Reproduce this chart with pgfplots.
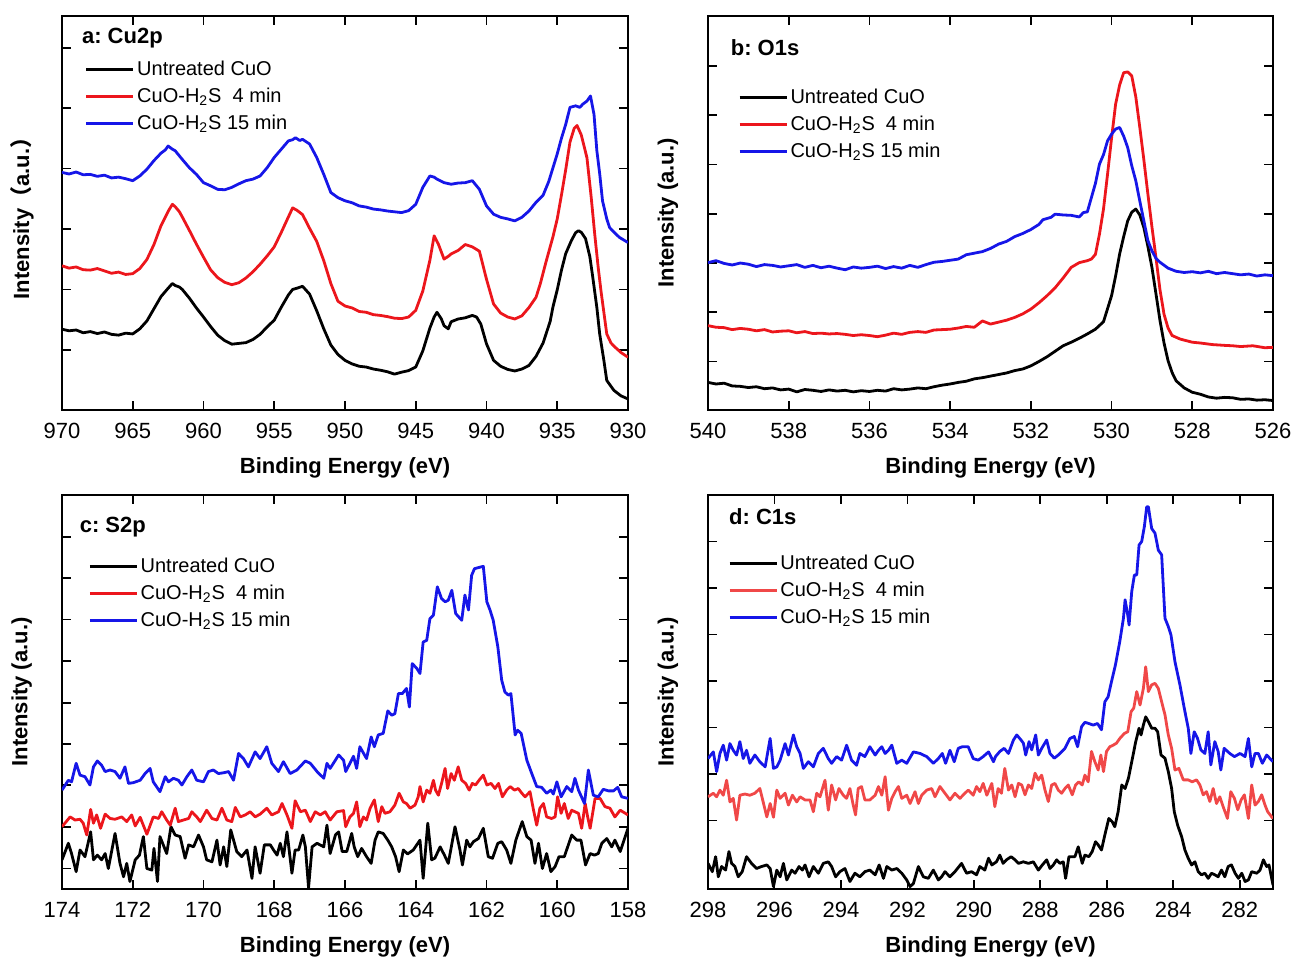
\documentclass[border=0pt]{standalone}
\usepackage{fontspec}
\setmainfont{Liberation Sans}
\newfontfamily\cjk{Noto Sans CJK SC}
\usepackage{pgfplots}
\pgfplotsset{compat=1.18}

\definecolor{cured}{RGB}{236,22,28}
\definecolor{cublue}{RGB}{22,22,232}
\definecolor{culight}{RGB}{240,72,72}

\pgfplotsset{
  xps/.style={
    width=283pt, height=197pt, scale only axis,
    anchor=south west,
    x dir=reverse, ymin=0, ymax=100,
    axis line style={line width=0.9pt},
    tick style={line width=0.9pt, black},
    major tick length=4.5pt, tick align=inside,
    xtick pos=both, ytick pos=both, yticklabel=\empty,
    tick label style={font=\fontsize{11}{13}\selectfont},
    xticklabel style={yshift=-3pt},
    /pgf/number format/assume math mode=true,
    xlabel={Binding Energy (eV)},
    ylabel={Intensity (a.u.)},
    label style={font=\bfseries\fontsize{11}{13}\selectfont},
    xlabel style={at={(axis description cs:0.5,-0.148)}, anchor=center},
    ylabel style={at={(axis description cs:-0.071,0.5)}, anchor=center},
    legend style={draw=none, fill=none, anchor=north west,
      font=\fontsize{10}{12}\selectfont, inner sep=0pt,
      nodes={inner xsep=1.2pt, inner ysep=2.4pt}, row sep=0pt},
    legend cell align=left,
    legend image code/.code={\draw[#1] (0pt,0pt) -- (23.5pt,0pt);},
    every axis plot/.append style={line width=1.4pt, mark=none, line join=round},
  },
}
\tikzset{lab/.style={anchor=west, font=\bfseries\fontsize{11}{13}\selectfont}}

\begin{document}
\frenchspacing
\begin{tikzpicture}
\useasboundingbox (0pt,0pt) rectangle (646pt,479pt);

% ---------- a: Cu2p
\begin{axis}[xps, at={(31pt,274pt)},
  xmin=930, xmax=970, xtick={930,935,...,970},
  ytick={15.3,30.6,45.9,61.3,76.6,91.9},
  ylabel={Intensity{\cjk （}a.u.{\cjk ）}},
  legend style={at={(axis description cs:0.040,0.900)}}]
\addplot[black] coordinates {(970,20.5)(969.5,20.1)(969,20.3)(968.5,19.6)(968,19.9)(967.5,19.4)(967,19.8)(966.5,19.2)(966,19.0)(965.5,19.5)(965,19.3)(964.5,20.6)(964,22.6)(963.5,25.7)(963,28.8)(962.5,30.9)(962.2,32.1)(962,31.6)(961.7,31.2)(961.5,30.6)(961,28.4)(960.5,25.9)(960,23.6)(959.5,21.2)(959,19.0)(958.5,17.6)(958,16.7)(957.5,16.9)(957,17.1)(956.5,17.9)(956,19.2)(955.5,21.1)(955,22.8)(954.5,26.1)(954,29.2)(953.7,30.6)(953.4,30.9)(953,31.4)(952.5,29.4)(952,25.2)(951.5,20.6)(951,16.5)(950.5,14.1)(950,12.6)(949.5,11.7)(949,11.1)(948.5,10.9)(948,10.4)(947.5,10.1)(947,9.7)(946.5,9.1)(946,9.6)(945.5,10.0)(945,10.9)(944.5,15.0)(944,20.8)(943.7,23.6)(943.5,24.8)(943.2,23.2)(943,21.4)(942.7,20.6)(942.5,22.4)(942,23.1)(941.5,23.4)(941,24.0)(940.7,23.6)(940.4,21.8)(940,16.8)(939.5,12.6)(939,11.1)(938.5,10.3)(938,9.9)(937.5,10.4)(937,11.3)(936.5,13.6)(936,17.0)(935.5,22.5)(935.3,26.2)(935,30.5)(934.7,35.5)(934.4,39.7)(934,43.0)(933.7,45.0)(933.5,45.5)(933.3,45.1)(933,43.5)(932.7,39.0)(932.5,34.0)(932.2,26.0)(932,19.3)(931.7,12.5)(931.5,7.5)(931.2,6.0)(931,5.0)(930.5,3.6)(930,2.8)};
\addplot[cured] coordinates {(970,36.6)(969.5,36.0)(969,36.3)(968.5,35.6)(968,35.5)(967.5,35.9)(967,35.3)(966.5,34.7)(966,35.0)(965.5,34.4)(965,34.6)(964.5,35.9)(964,38.2)(963.5,42.0)(963,46.8)(962.5,50.4)(962.2,52.2)(962,51.6)(961.7,50.3)(961.5,49.0)(961,45.6)(960.5,42.1)(960,38.8)(959.5,35.6)(959,33.6)(958.5,32.4)(958,31.8)(957.5,32.3)(957,33.5)(956.5,35.1)(956,37.0)(955.5,39.1)(955,41.4)(954.5,45.1)(954,49.0)(953.7,51.3)(953.4,50.7)(953,49.6)(952.5,46.1)(952,42.8)(951.5,37.9)(951,32.1)(950.5,27.6)(950,26.4)(949.5,25.9)(949,25.0)(948.5,24.8)(948,24.2)(947.5,24.0)(947,23.7)(946.5,23.3)(946,23.2)(945.5,23.6)(945,25.3)(944.5,30.2)(944,38.0)(943.7,44.2)(943.4,42.1)(943,38.3)(942.7,39.0)(942.5,39.6)(942,40.5)(941.5,42.0)(941,41.4)(940.5,40.3)(940,33.2)(939.5,26.9)(939,24.6)(938.5,23.6)(938,23.1)(937.5,23.9)(937,26.0)(936.5,28.6)(936.2,32.0)(935.8,37.5)(935.3,44.0)(935,48.5)(934.7,54.6)(934.4,61.0)(934.1,68.0)(933.8,71.5)(933.6,72.2)(933.3,69.8)(932.9,64.0)(932.6,54.0)(932.35,44.6)(932.1,36.0)(931.9,30.0)(931.5,19.3)(931.2,17.0)(930.9,15.9)(930.5,14.6)(930,13.4)};
\addplot[cublue] coordinates {(970,60.3)(969.5,59.9)(969,60.4)(968.5,59.7)(968,59.8)(967.5,59.3)(967,59.6)(966.5,58.9)(966,59.1)(965.5,58.7)(965,58.2)(964.5,59.4)(964,61.1)(963.5,63.3)(963,65.2)(962.7,66.0)(962.5,67.0)(962.2,66.2)(962,65.8)(961.5,63.6)(961,61.5)(960.5,59.8)(960,57.7)(959.5,56.9)(959,56.0)(958.5,55.9)(958,56.5)(957.5,57.4)(957,58.2)(956.5,58.6)(956,59.4)(955.5,61.5)(955,64.1)(954.5,66.2)(954,68.3)(953.7,68.6)(953.5,69.1)(953.2,68.4)(953,68.7)(952.5,67.5)(952,64.1)(951.5,59.8)(951,55.2)(950.5,53.9)(950,53.1)(949.5,52.6)(949,51.8)(948.5,51.5)(948,51.0)(947.5,50.8)(947,50.5)(946.5,50.3)(946,50.1)(945.5,50.6)(945,52.2)(944.5,56.5)(944,59.4)(943.7,59.1)(943.5,58.6)(943,57.7)(942.5,57.3)(942,57.6)(941.5,57.7)(941,58.2)(940.5,56.0)(940,51.8)(939.5,49.7)(939,48.9)(938.5,48.5)(938,48.0)(937.5,48.9)(937,50.5)(936.5,52.7)(936,54.5)(935.6,58.0)(935.3,61.5)(935,65.0)(934.7,69.0)(934.4,72.5)(934.1,76.8)(933.7,77.2)(933.4,76.8)(933.2,77.6)(932.9,78.4)(932.65,79.7)(932.4,75.0)(932.2,65.8)(932,60.0)(931.8,53.1)(931.5,48.5)(931.3,46.3)(930.9,44.8)(930.6,43.8)(930,42.5)};
\legend{Untreated CuO, CuO-H\textsubscript{2}S\ \ 4 min, CuO-H\textsubscript{2}S 15 min}
\node[lab] at (axis description cs:0.023,0.944) {a: Cu2p};
\end{axis}

% ---------- b: O1s
\begin{axis}[xps, at={(354pt,274pt)}, width=282.5pt,
  xmin=526, xmax=540, xtick={526,528,...,540},
  ytick={12.3,24.8,37.3,49.8,62.3,74.8,87.3},
  legend style={at={(axis description cs:0.053,0.829)}}]
\addplot[black] coordinates {(540,7.0)(539.8,6.6)(539.6,6.8)(539.4,6.1)(539.2,6.0)(539,5.7)(538.8,5.9)(538.6,5.4)(538.4,5.6)(538.2,5.1)(538,5.3)(537.8,4.6)(537.6,5.2)(537.4,5.0)(537.2,4.7)(537,5.1)(536.8,4.8)(536.6,5.0)(536.4,4.6)(536.2,4.9)(536,4.7)(535.8,5.0)(535.6,4.8)(535.4,5.4)(535.2,5.1)(535,5.3)(534.8,5.6)(534.6,5.4)(534.4,5.9)(534.2,6.3)(534,6.6)(533.8,7.0)(533.6,7.3)(533.4,7.9)(533.2,8.2)(533,8.6)(532.8,9.0)(532.6,9.4)(532.4,10.0)(532.2,10.4)(532,11.2)(531.8,12.3)(531.6,13.5)(531.4,14.9)(531.2,16.3)(531,17.2)(530.8,18.2)(530.6,19.3)(530.4,20.5)(530.2,22.4)(530,29.0)(529.9,34.0)(529.8,39.6)(529.7,44.0)(529.6,48.0)(529.5,50.2)(529.4,51.0)(529.3,49.5)(529.2,46.3)(529.1,41.5)(529,36.2)(528.9,29.5)(528.8,22.7)(528.7,17.0)(528.6,12.5)(528.5,9.5)(528.4,7.4)(528.2,5.6)(528,4.5)(527.8,4.0)(527.6,3.3)(527.4,3.0)(527.2,3.2)(527,3.1)(526.8,2.7)(526.6,2.8)(526.4,2.5)(526.2,2.6)(526,2.4)};
\addplot[cured] coordinates {(540,21.4)(539.8,21.0)(539.6,20.9)(539.4,20.4)(539.2,20.7)(539,20.5)(538.8,20.1)(538.6,20.4)(538.4,19.8)(538.2,20.0)(538,20.1)(537.8,19.6)(537.6,19.9)(537.4,19.4)(537.2,19.5)(537,19.3)(536.8,19.4)(536.6,19.2)(536.4,18.9)(536.2,19.1)(536,18.9)(535.8,18.6)(535.6,19.0)(535.4,19.5)(535.2,19.2)(535,19.7)(534.8,19.9)(534.6,19.7)(534.4,20.3)(534.2,20.4)(534,20.5)(533.8,20.8)(533.6,21.2)(533.4,21.0)(533.2,22.6)(533,21.8)(532.8,22.3)(532.6,22.8)(532.4,23.5)(532.2,24.4)(532,25.6)(531.8,27.2)(531.6,29.0)(531.4,31.0)(531.2,33.5)(531,36.2)(530.8,37.4)(530.6,37.9)(530.5,38.3)(530.4,39.5)(530.3,44.6)(530.2,51.0)(530.1,59.8)(530,69.0)(529.9,77.6)(529.8,82.5)(529.7,85.6)(529.6,85.8)(529.5,84.8)(529.4,79.5)(529.3,71.7)(529.2,63.5)(529.1,54.8)(529,46.5)(528.9,38.7)(528.8,30.5)(528.7,24.3)(528.6,20.8)(528.5,18.9)(528.3,18.0)(528,17.2)(527.8,17.0)(527.5,16.6)(527.2,16.4)(527,16.3)(526.8,16.1)(526.5,16.3)(526.2,15.8)(526,15.9)};
\addplot[cublue] coordinates {(540,37.4)(539.8,37.9)(539.6,37.2)(539.4,36.8)(539.2,37.3)(539,37.0)(538.8,36.4)(538.6,36.9)(538.4,36.7)(538.2,36.3)(538,36.6)(537.8,36.9)(537.6,36.2)(537.4,36.7)(537.2,36.1)(537,36.5)(536.8,36.0)(536.6,35.6)(536.4,36.3)(536.2,36.0)(536,36.2)(535.8,36.5)(535.6,35.9)(535.4,36.4)(535.2,36.0)(535,36.7)(534.8,36.2)(534.6,36.9)(534.4,37.5)(534.2,37.7)(534,38.0)(533.8,38.3)(533.6,39.4)(533.4,39.8)(533.2,40.2)(533,41.0)(532.8,42.1)(532.6,42.8)(532.4,44.0)(532.2,44.8)(532,45.8)(531.8,47.1)(531.7,48.3)(531.5,48.9)(531.4,49.7)(531.2,49.5)(531,49.4)(530.8,49.0)(530.7,50.1)(530.6,50.3)(530.5,53.9)(530.4,57.5)(530.3,62.4)(530.2,64.8)(530.1,68.3)(530,70.0)(529.9,71.3)(529.8,71.7)(529.7,69.5)(529.6,66.6)(529.5,62.0)(529.4,58.2)(529.3,53.0)(529.2,48.0)(529.1,43.0)(529,40.4)(528.9,38.5)(528.8,37.5)(528.6,36.0)(528.4,35.2)(528.2,34.9)(528,35.1)(527.8,34.8)(527.6,35.2)(527.4,34.6)(527.2,34.9)(527,34.6)(526.8,34.3)(526.6,34.5)(526.4,34.0)(526.2,34.3)(526,34.1)};
\legend{Untreated CuO, CuO-H\textsubscript{2}S\ \ 4 min, CuO-H\textsubscript{2}S 15 min}
\node[lab] at (axis description cs:0.028,0.92) {b: O1s};
\end{axis}

% ---------- c: S2p
\begin{axis}[xps, at={(31pt,34.5pt)},
  xmin=158, xmax=174, xtick={158,160,...,174},
  ytick={5.2,15.8,26.3,36.8,47.3,57.9,68.4,78.9,89.4},
  legend style={at={(axis description cs:0.046,0.854)}}]
\addplot[black] coordinates {(174,7.4)(173.82,11.6)(173.73,9.0)(173.60,4.4)(173.49,9.9)(173.35,8.2)(173.19,14.5)(173.11,7.4)(173.00,8.6)(172.88,7.4)(172.78,9.0)(172.69,5.2)(172.50,14.1)(172.36,6.5)(172.26,3.1)(172.17,6.5)(172.08,1.9)(171.93,7.4)(171.81,8.6)(171.70,13.3)(171.60,5.2)(171.46,4.8)(171.40,10.3)(171.30,1.9)(171.23,13.3)(171.04,9.0)(170.92,15.8)(170.80,13.7)(170.66,13.3)(170.52,7.8)(170.42,11.2)(170.28,10.7)(170.14,13.7)(170.00,10.7)(169.91,7.4)(169.76,6.9)(169.62,12.4)(169.53,6.1)(169.43,10.7)(169.34,5.7)(169.23,15.0)(169.06,9.5)(168.92,8.2)(168.77,9.9)(168.63,2.7)(168.54,10.7)(168.40,4.0)(168.28,11.2)(168.11,11.2)(168.02,9.9)(167.92,8.6)(167.83,11.6)(167.74,8.2)(167.64,14.5)(167.50,4.0)(167.41,9.9)(167.31,9.9)(167.19,13.7)(167.12,10.7)(167.03,0.3)(166.93,10.7)(166.79,11.6)(166.60,10.7)(166.51,16.2)(166.42,9.0)(166.27,13.7)(166.18,14.5)(166.08,9.5)(165.95,9.5)(165.81,14.1)(165.74,10.7)(165.64,8.2)(165.53,10.3)(165.39,8.2)(165.26,6.5)(165.15,12.4)(165.06,14.5)(164.92,14.1)(164.79,12.4)(164.68,10.7)(164.57,8.2)(164.47,4.4)(164.35,9.9)(164.23,8.9)(164.07,9.9)(163.88,12.4)(163.79,2.7)(163.66,16.7)(163.55,7.4)(163.46,7.8)(163.31,10.7)(163.19,8.6)(163.08,6.5)(162.89,15.8)(162.75,9.9)(162.68,6.1)(162.56,12.4)(162.47,10.7)(162.37,12.0)(162.23,12.8)(162.09,15.4)(161.95,8.2)(161.83,7.8)(161.68,11.6)(161.57,12.0)(161.43,9.9)(161.31,6.5)(161.17,12.4)(160.99,17.1)(160.86,13.3)(160.74,12.4)(160.63,6.5)(160.53,11.6)(160.42,5.2)(160.30,9.0)(160.18,4.4)(160.06,5.7)(159.95,8.2)(159.80,8.2)(159.59,13.7)(159.45,12.4)(159.33,12.4)(159.20,6.1)(159.07,9.0)(158.95,8.6)(158.84,9.0)(158.74,11.6)(158.60,12.8)(158.46,10.7)(158.37,12.4)(158.22,9.5)(158.0,15.4)};
\addplot[cured] coordinates {(174,15.8)(173.77,18.3)(173.63,17.5)(173.49,17.7)(173.40,16.7)(173.30,13.7)(173.19,20.2)(173.11,16.7)(173.02,18.8)(172.91,15.4)(172.78,19.0)(172.64,17.9)(172.50,17.7)(172.31,18.3)(172.17,17.1)(172.03,18.8)(171.93,16.0)(171.79,18.2)(171.60,13.9)(171.42,18.3)(171.27,17.9)(171.18,19.6)(171.04,17.5)(170.94,16.2)(170.80,20.5)(170.71,17.1)(170.57,17.5)(170.42,17.9)(170.33,19.6)(170.19,18.3)(170.09,17.1)(169.91,20.0)(169.76,17.9)(169.62,17.5)(169.48,20.5)(169.34,17.5)(169.20,17.1)(169.10,20.7)(168.96,18.3)(168.82,18.8)(168.68,19.6)(168.54,18.3)(168.40,19.0)(168.21,20.5)(168.07,18.8)(167.88,19.6)(167.78,21.7)(167.64,18.8)(167.50,15.4)(167.41,22.4)(167.26,19.6)(167.12,20.0)(166.98,17.1)(166.84,19.6)(166.70,18.8)(166.56,19.6)(166.42,17.5)(166.23,19.6)(166.04,19.9)(165.98,15.8)(165.86,18.3)(165.76,19.2)(165.67,22.1)(165.58,15.8)(165.48,18.3)(165.39,17.5)(165.29,20.5)(165.17,22.6)(165.06,17.1)(164.96,20.9)(164.87,19.2)(164.73,19.6)(164.59,21.3)(164.47,24.3)(164.35,22.1)(164.26,21.7)(164.16,20.5)(164.02,21.3)(163.93,23.4)(163.88,26.0)(163.79,22.1)(163.69,25.1)(163.60,24.3)(163.50,27.6)(163.44,25.1)(163.36,23.8)(163.27,26.8)(163.17,30.6)(163.10,25.5)(163.00,29.3)(162.91,27.6)(162.80,31.0)(162.70,27.6)(162.59,26.8)(162.49,25.1)(162.40,26.8)(162.31,26.4)(162.21,27.6)(162.09,28.9)(161.99,26.4)(161.87,26.8)(161.76,25.5)(161.66,26.8)(161.55,23.4)(161.43,25.1)(161.33,26.0)(161.21,25.1)(161.10,25.5)(161.00,24.3)(160.91,23.4)(160.77,24.7)(160.67,20.0)(160.58,16.2)(160.49,20.5)(160.39,21.7)(160.30,18.3)(160.16,17.9)(160.06,18.3)(159.99,23.4)(159.89,19.2)(159.80,21.7)(159.69,17.9)(159.59,20.0)(159.50,19.6)(159.40,19.2)(159.31,15.4)(159.21,21.7)(159.14,18.3)(159.07,15.4)(158.93,23.0)(158.79,23.0)(158.65,20.9)(158.51,20.5)(158.37,18.3)(158.22,20.0)(158.0,18.8)};
\addplot[cublue] coordinates {(174,25.1)(173.82,27.6)(173.73,27.2)(173.60,31.9)(173.49,28.9)(173.35,28.5)(173.21,26.4)(173.11,31.0)(173.00,32.5)(172.88,31.4)(172.78,29.8)(172.64,30.2)(172.50,29.8)(172.36,28.1)(172.22,31.0)(172.12,26.8)(171.98,27.0)(171.79,27.6)(171.65,29.3)(171.51,30.6)(171.42,27.2)(171.23,24.7)(171.08,28.5)(170.99,27.2)(170.85,28.1)(170.71,27.6)(170.61,26.4)(170.47,28.5)(170.33,30.2)(170.19,27.6)(170.00,27.2)(169.86,29.8)(169.72,30.2)(169.58,29.3)(169.43,29.5)(169.29,29.8)(169.15,27.6)(169.01,34.4)(168.87,33.1)(168.73,31.0)(168.54,34.8)(168.40,33.1)(168.21,36.1)(168.07,31.9)(167.88,29.8)(167.74,32.3)(167.55,29.3)(167.36,30.2)(167.12,32.5)(166.98,31.9)(166.79,29.8)(166.60,28.1)(166.51,31.9)(166.42,30.6)(166.18,34.0)(166.04,32.7)(165.98,29.8)(165.86,31.9)(165.76,33.7)(165.67,30.6)(165.58,36.1)(165.39,33.1)(165.26,38.6)(165.17,36.1)(165.06,39.1)(164.92,39.5)(164.79,45.2)(164.68,44.1)(164.59,44.5)(164.49,49.6)(164.38,49.6)(164.26,50.9)(164.18,46.2)(164.10,57.2)(163.97,56.0)(163.88,54.7)(163.79,62.7)(163.69,63.1)(163.60,68.6)(163.50,69.5)(163.39,76.7)(163.27,73.7)(163.17,72.9)(163.08,73.3)(162.98,75.8)(162.87,69.9)(162.70,68.2)(162.61,74.6)(162.51,70.8)(162.42,79.6)(162.34,81.3)(162.09,81.9)(161.99,72.9)(161.90,70.8)(161.81,68.2)(161.68,61.5)(161.57,53.0)(161.48,50.0)(161.38,49.2)(161.31,49.6)(161.19,39.1)(161.12,40.3)(161.02,39.5)(160.86,32.7)(160.72,29.3)(160.58,26.0)(160.44,25.8)(160.30,24.3)(160.18,25.1)(160.11,24.1)(160.01,27.2)(159.89,23.4)(159.73,26.0)(159.59,24.7)(159.50,28.1)(159.40,25.1)(159.23,21.7)(159.12,30.2)(158.98,23.8)(158.84,23.4)(158.70,25.3)(158.55,24.9)(158.41,24.9)(158.29,25.8)(158.18,23.4)(158.0,23.0)};
\legend{Untreated CuO, CuO-H\textsubscript{2}S\ \ 4 min, CuO-H\textsubscript{2}S 15 min}
\node[lab] at (axis description cs:0.019,0.919) {c: S2p};
\end{axis}

% ---------- d: C1s
\begin{axis}[xps, at={(354pt,34.5pt)}, width=282.5pt,
  xmin=281, xmax=298, xtick={282,284,...,298},
  ytick={17.4,29.2,41.0,52.8,64.6,76.4,88.2},
  legend style={at={(axis description cs:0.035,0.862)}}]
\addplot[black] coordinates {(298,6.5)(297.87,4.4)(297.77,8.2)(297.69,3.1)(297.59,5.7)(297.47,4.8)(297.37,9.5)(297.29,6.5)(297.19,5.7)(297.09,3.1)(296.97,4.4)(296.84,8.2)(296.69,6.5)(296.54,5.2)(296.39,5.7)(296.23,6.1)(296.13,5.2)(296.03,0.6)(295.93,4.8)(295.83,3.1)(295.73,6.5)(295.63,2.3)(295.48,4.8)(295.38,4.0)(295.26,5.7)(295.16,4.8)(295.08,6.1)(294.96,3.1)(294.83,5.7)(294.68,4.0)(294.53,6.5)(294.38,6.9)(294.28,5.7)(294.16,3.1)(294.03,4.4)(293.88,5.2)(293.73,1.9)(293.58,4.0)(293.43,3.1)(293.28,4.4)(293.13,4.8)(292.97,3.6)(292.85,6.1)(292.72,2.7)(292.62,5.7)(292.47,4.8)(292.32,5.2)(292.17,4.0)(292.02,2.3)(291.92,0.6)(291.82,1.4)(291.67,5.7)(291.52,3.1)(291.37,2.7)(291.22,4.8)(291.07,2.3)(290.97,3.1)(290.87,4.4)(290.72,3.1)(290.57,4.4)(290.37,6.5)(290.22,4.0)(290.07,4.4)(289.92,3.6)(289.82,5.7)(289.67,4.8)(289.56,7.8)(289.46,6.1)(289.32,6.9)(289.22,8.6)(289.12,6.5)(289.02,7.4)(288.88,8.2)(288.76,7.4)(288.66,6.5)(288.51,6.9)(288.36,6.5)(288.21,6.9)(288.06,4.8)(287.94,6.1)(287.81,7.4)(287.71,5.2)(287.61,6.1)(287.51,7.4)(287.41,6.5)(287.31,6.9)(287.24,2.7)(287.14,8.2)(287.04,8.2)(286.96,8.2)(286.86,10.7)(286.74,6.5)(286.66,8.6)(286.54,8.2)(286.44,9.5)(286.34,12.0)(286.26,11.2)(286.16,9.9)(286.06,13.7)(285.94,17.9)(285.84,17.1)(285.76,15.8)(285.66,19.6)(285.55,26.4)(285.45,25.5)(285.35,28.1)(285.25,32.3)(285.13,37.4)(285.03,40.8)(284.97,39.1)(284.90,41.6)(284.83,43.7)(284.75,42.5)(284.65,40.8)(284.55,40.8)(284.47,39.9)(284.37,34.0)(284.25,33.2)(284.15,29.8)(284.05,25.5)(283.97,19.6)(283.87,16.2)(283.75,13.3)(283.65,9.9)(283.55,7.8)(283.45,6.1)(283.35,6.9)(283.25,4.4)(283.15,3.6)(283.05,4.0)(282.95,2.7)(282.85,4.0)(282.75,3.6)(282.65,3.1)(282.55,4.8)(282.45,3.1)(282.35,5.7)(282.25,6.1)(282.14,4.0)(282.04,2.7)(281.94,4.0)(281.84,1.9)(281.74,2.3)(281.64,4.4)(281.49,4.0)(281.39,4.8)(281.29,7.4)(281.19,5.7)(281.12,6.1)(281.0,1.0)};
\addplot[culight] coordinates {(298,23.4)(297.84,24.3)(297.74,23.4)(297.64,25.1)(297.54,23.8)(297.44,27.6)(297.34,22.1)(297.24,23.0)(297.14,17.5)(297.04,23.8)(296.89,24.1)(296.74,23.8)(296.59,24.3)(296.44,25.5)(296.34,22.1)(296.23,18.3)(296.13,21.7)(296.03,18.2)(295.93,25.1)(295.83,23.0)(295.68,24.3)(295.58,21.3)(295.46,23.8)(295.33,22.1)(295.23,23.4)(295.08,22.6)(294.93,22.6)(294.83,19.6)(294.73,24.3)(294.63,23.4)(294.48,27.6)(294.38,20.0)(294.28,26.4)(294.16,22.6)(294.06,25.5)(293.93,23.8)(293.83,23.0)(293.73,25.5)(293.63,21.3)(293.56,18.8)(293.48,25.5)(293.38,26.0)(293.28,22.6)(293.13,22.6)(292.97,23.8)(292.87,26.0)(292.77,23.8)(292.67,28.5)(292.57,20.0)(292.47,23.0)(292.37,24.7)(292.27,26.0)(292.17,23.0)(292.02,23.8)(291.92,21.7)(291.77,24.7)(291.67,21.7)(291.57,23.8)(291.42,25.1)(291.27,25.5)(291.17,23.4)(291.02,26.0)(290.87,24.3)(290.72,22.6)(290.57,24.3)(290.42,23.0)(290.27,24.3)(290.17,25.1)(290.02,23.8)(289.92,26.0)(289.82,24.7)(289.72,26.8)(289.61,23.8)(289.46,26.8)(289.37,20.9)(289.27,25.5)(289.17,24.3)(289.07,30.6)(288.96,25.1)(288.86,26.4)(288.76,23.4)(288.66,26.8)(288.56,26.4)(288.46,23.9)(288.36,26.4)(288.26,25.5)(288.16,29.4)(288.06,27.7)(287.96,28.9)(287.86,25.1)(287.76,22.2)(287.66,26.4)(287.56,26.8)(287.46,25.1)(287.36,24.3)(287.26,25.5)(287.16,26.4)(287.04,23.9)(286.94,26.4)(286.84,27.2)(286.74,26.4)(286.66,28.9)(286.56,27.2)(286.46,34.9)(286.36,32.3)(286.26,30.2)(286.18,34.0)(286.10,29.8)(286.01,34.9)(285.91,36.1)(285.81,36.5)(285.71,37.0)(285.61,38.2)(285.47,39.5)(285.37,39.9)(285.27,45.0)(285.19,45.9)(285.10,50.1)(285.00,46.7)(284.90,50.9)(284.83,56.4)(284.75,50.1)(284.65,51.8)(284.55,52.2)(284.45,50.9)(284.35,47.5)(284.25,44.2)(284.15,39.1)(284.05,35.7)(283.95,30.2)(283.83,30.6)(283.70,27.7)(283.55,27.7)(283.43,27.2)(283.30,27.7)(283.20,26.4)(283.10,23.9)(283.00,24.7)(282.90,22.2)(282.80,25.5)(282.70,21.7)(282.60,23.4)(282.50,20.9)(282.37,17.9)(282.27,24.7)(282.16,23.0)(282.06,20.1)(281.96,22.6)(281.86,23.9)(281.74,17.9)(281.64,26.4)(281.54,21.3)(281.44,22.2)(281.34,23.9)(281.24,21.3)(281.16,19.6)(281.0,17.9)};
\addplot[cublue] coordinates {(298,33.1)(297.84,34.8)(297.74,29.8)(297.64,34.4)(297.54,36.5)(297.44,32.7)(297.34,36.9)(297.24,35.2)(297.14,34.0)(297.04,37.4)(296.94,33.1)(296.84,35.2)(296.74,31.9)(296.59,34.0)(296.44,32.3)(296.28,31.0)(296.13,38.2)(296.03,30.6)(295.93,31.0)(295.83,32.7)(295.68,36.9)(295.58,34.0)(295.43,39.1)(295.33,36.1)(295.23,34.4)(295.13,30.6)(294.98,32.3)(294.83,31.0)(294.68,34.4)(294.53,35.7)(294.38,33.1)(294.28,31.9)(294.13,33.6)(293.98,32.7)(293.83,36.5)(293.68,32.7)(293.53,31.4)(293.43,34.4)(293.28,33.6)(293.13,36.1)(292.97,34.0)(292.87,35.2)(292.77,36.1)(292.67,34.4)(292.57,35.2)(292.47,36.5)(292.32,31.9)(292.17,32.7)(292.02,31.9)(291.82,34.8)(291.62,34.4)(291.42,33.6)(291.22,31.9)(291.07,33.1)(290.95,34.4)(290.85,31.9)(290.72,35.2)(290.59,32.3)(290.47,35.7)(290.35,36.1)(290.17,36.1)(290.02,33.1)(289.87,32.7)(289.72,33.6)(289.56,34.8)(289.41,32.3)(289.35,33.6)(289.22,34.9)(289.09,35.7)(288.96,34.4)(288.81,37.8)(288.71,39.1)(288.58,37.8)(288.51,37.0)(288.44,34.0)(288.34,37.4)(288.26,35.3)(288.14,39.1)(288.06,34.0)(287.96,35.7)(287.81,37.8)(287.71,34.4)(287.58,33.2)(287.46,34.0)(287.26,35.7)(287.11,38.2)(286.98,38.7)(286.88,36.1)(286.76,41.2)(286.66,42.3)(286.54,42.0)(286.41,41.6)(286.28,42.0)(286.16,40.4)(286.06,47.5)(285.96,48.8)(285.86,52.6)(285.74,56.9)(285.61,62.8)(285.50,68.7)(285.45,73.4)(285.37,69.5)(285.33,67.0)(285.25,75.5)(285.17,79.7)(285.10,79.7)(285.03,87.3)(284.95,88.2)(284.87,92.0)(284.80,97.0)(284.75,97.0)(284.65,91.5)(284.55,90.3)(284.45,86.0)(284.35,84.8)(284.25,68.7)(284.15,66.6)(284.07,64.5)(283.95,57.7)(283.80,51.8)(283.67,45.9)(283.55,40.8)(283.47,34.4)(283.37,39.9)(283.27,38.2)(283.17,35.3)(283.05,34.4)(282.95,39.9)(282.87,31.5)(282.75,37.4)(282.65,34.9)(282.57,30.2)(282.47,35.7)(282.30,34.4)(282.16,33.6)(281.99,34.4)(281.84,33.6)(281.74,38.2)(281.64,31.0)(281.54,34.4)(281.44,34.4)(281.32,31.9)(281.19,34.0)(281.0,32.3)};
\legend{Untreated CuO, CuO-H\textsubscript{2}S\ \ 4 min, CuO-H\textsubscript{2}S 15 min}
\node[lab] at (axis description cs:0.025,0.944) {d: C1s};
\end{axis}
\end{tikzpicture}
\end{document}
